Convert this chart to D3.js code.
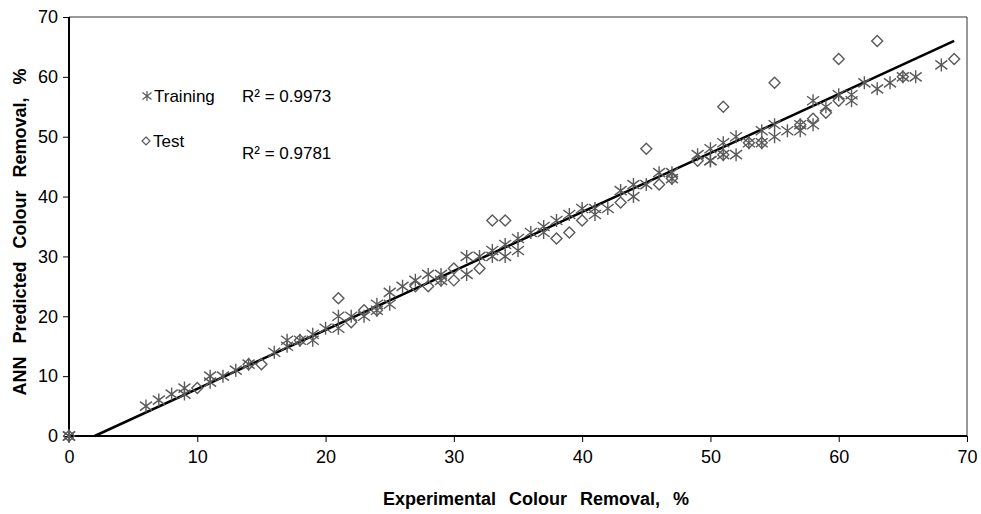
<!DOCTYPE html>
<html>
<head>
<meta charset="utf-8">
<script src="https://cdn.jsdelivr.net/npm/d3@7"></script>
<style>
  body { margin: 0; background: #fff; }
  text { font-family: "Liberation Sans", Arial, sans-serif; }
</style>
</head>
<body>
<div id="chart"></div>
<script>
// training points (experimental, predicted)
const trainX = [0, 0, 0, 6, 7, 8, 9, 9, 11, 11, 12, 13, 14, 16, 17, 17, 18, 19, 19, 20, 21, 21, 22, 23, 24, 24, 25, 25, 26, 27, 28, 29, 29, 31, 31, 32, 33, 33, 34, 34, 35, 35, 36, 37, 37, 38, 39, 40, 41, 41, 42, 43, 44, 44, 45, 46, 47, 47, 49, 50, 50, 50, 51, 51, 52, 52, 53, 54, 54, 55, 55, 56, 57, 57, 58, 58, 59, 60, 61, 61, 62, 63, 64, 65, 66, 68]
const trainY = [0, 0, 0, 5, 6, 7, 8, 7, 10, 9, 10, 11, 12, 14, 16, 15, 16, 17, 16, 18, 20, 18, 20, 20, 22, 21, 24, 22, 25, 26, 27, 27, 26, 30, 27, 30, 31, 30, 30, 32, 33, 31, 34, 35, 34, 36, 37, 38, 38, 37, 38, 41, 42, 40, 42, 44, 43, 44, 47, 48, 46, 46, 49, 47, 50, 47, 49, 51, 49, 52, 50, 51, 52, 51, 56, 52, 55, 57, 57, 56, 59, 58, 59, 60, 60, 62]

// test points
const testX = [0, 10, 14, 15, 18, 21, 22, 23, 24, 27, 28, 29, 30, 30, 32, 33, 34, 38, 39, 40, 43, 45, 46, 47, 49, 51, 51, 53, 54, 55, 57, 58, 59, 60, 60, 63, 65, 69]
const testY = [0, 8, 12, 12, 16, 23, 19, 21, 21, 25, 25, 26, 28, 26, 28, 36, 36, 33, 34, 36, 39, 48, 42, 43, 46, 55, 47, 49, 49, 59, 52, 53, 54, 63, 56, 66, 60, 63]

// fitted line
const trendX = [2, 69]
const trendY = [0, 66]

const xTicks = [0, 10, 20, 30, 40, 50, 60, 70]
const yTicks = [0, 10, 20, 30, 40, 50, 60, 70]
const r2Labels = ['R² = 0.9973', 'R² = 0.9781']
const seriesNames = ['Training', 'Test']

const margin = { top: 17, right: 14, bottom: 78, left: 69 }
const fullW = 981
const fullH = 514
const width = fullW - margin.left - margin.right
const height = fullH - margin.top - margin.bottom
const markColor = '#5a5a5a'

const svg = d3.select('#chart')
  .append('svg')
  .attr('width', fullW)
  .attr('height', fullH)

const g = svg.append('g')
  .attr('transform', `translate(${margin.left},${margin.top})`)

const x = d3.scaleLinear().domain([0, 70]).range([0, width])
const y = d3.scaleLinear().domain([0, 70]).range([height, 0])

// frame top / right
g.append('path')
  .attr('d', `M0,0H${width}V${height}`)
  .attr('fill', 'none')
  .attr('stroke', '#333')
  .attr('stroke-width', 1)

const xAxis = g.append('g')
  .attr('transform', `translate(0,${height})`)
  .call(d3.axisBottom(x).tickValues(xTicks).tickSize(6).tickPadding(8))
const yAxis = g.append('g')
  .call(d3.axisLeft(y).tickValues(yTicks).tickSize(6).tickPadding(5))

for (const ax of [xAxis, yAxis]) {
  ax.select('.domain').attr('stroke', '#000').attr('stroke-width', 2)
  ax.selectAll('.tick line').attr('stroke', '#000').attr('stroke-width', 1)
  ax.selectAll('.tick text')
    .attr('fill', '#000')
    .style('font-size', '18px')
    .style('font-family', '"Liberation Sans", Arial, sans-serif')
}
xAxis.select('.domain').attr('d', `M0,0H${width}`)
yAxis.select('.domain').attr('d', `M0,${height}V0`)

// axis titles
svg.append('text')
  .attr('x', 536)
  .attr('y', 505)
  .attr('text-anchor', 'middle')
  .style('font-size', '18px')
  .style('font-weight', 'bold')
  .style('word-spacing', '8px')
  .text('Experimental Colour Removal, %')

svg.append('text')
  .attr('transform', 'translate(26,232) rotate(-90)')
  .attr('text-anchor', 'middle')
  .style('font-size', '18px')
  .style('font-weight', 'bold')
  .style('word-spacing', '8px')
  .text('ANN Predicted Colour Removal, %')

// marker shapes
const starPath = 'M0,-6.5V6.5M-6,-4.5L6,4.5M-6,4.5L6,-4.5'
const diamondPath = 'M0,-5.5L5.5,0L0,5.5L-5.5,0Z'

// trend line
g.append('line')
  .attr('x1', x(trendX[0]))
  .attr('y1', y(trendY[0]))
  .attr('x2', x(trendX[1]))
  .attr('y2', y(trendY[1]))
  .attr('stroke', '#000')
  .attr('stroke-width', 2.5)

const testPts = testX.map((d, i) => ({ x: d, y: testY[i] }))
const trainPts = trainX.map((d, i) => ({ x: d, y: trainY[i] }))

g.selectAll('.test')
  .data(testPts)
  .enter().append('path')
  .attr('class', 'test')
  .attr('d', diamondPath)
  .attr('transform', d => `translate(${x(d.x)},${y(d.y)})`)
  .attr('fill', 'none')
  .attr('stroke', markColor)
  .attr('stroke-width', 1.4)

g.selectAll('.train')
  .data(trainPts)
  .enter().append('path')
  .attr('class', 'train')
  .attr('d', starPath)
  .attr('transform', d => `translate(${x(d.x)},${y(d.y)})`)
  .attr('fill', 'none')
  .attr('stroke', markColor)
  .attr('stroke-width', 1.4)

// legend
const legend = svg.append('g')
legend.append('path')
  .attr('d', 'M0,-5V5M-4.5,-3.5L4.5,3.5M-4.5,3.5L4.5,-3.5')
  .attr('transform', 'translate(147,96)')
  .attr('fill', 'none')
  .attr('stroke', markColor)
  .attr('stroke-width', 1.2)
legend.append('path')
  .attr('d', 'M0,-4L4,0L0,4L-4,0Z')
  .attr('transform', 'translate(146,141)')
  .attr('fill', 'none')
  .attr('stroke', markColor)
  .attr('stroke-width', 1.2)
legend.selectAll('.lt')
  .data(seriesNames)
  .enter().append('text')
  .attr('x', (_, i) => i === 0 ? 154 : 153)
  .attr('y', (_, i) => i === 0 ? 102 : 147)
  .style('font-size', '17px')
  .text(d => d)
legend.selectAll('.r2')
  .data(r2Labels)
  .enter().append('text')
  .attr('x', 242)
  .attr('y', (_, i) => i === 0 ? 102 : 159)
  .style('font-size', '17px')
  .text(d => d)
</script>
</body>
</html>
